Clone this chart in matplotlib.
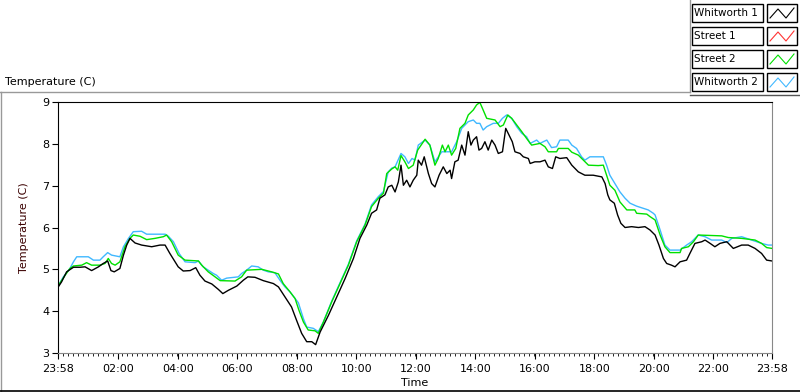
import numpy as np
import matplotlib
matplotlib.use("Agg")
import matplotlib.pyplot as plt
from matplotlib.lines import Line2D
from matplotlib.patches import Rectangle

# hours since 23:58, temperature (C)
w1_t = [0, 0.12, 0.29, 0.52, 0.74, 0.91, 1.13, 1.36, 1.52, 1.67, 1.78, 1.89, 2.08, 2.20, 2.31, 2.42,
        2.59, 2.81, 3.15, 3.43, 3.60, 3.76, 4.04, 4.21, 4.44, 4.63, 4.77, 4.94, 5.17, 5.39, 5.54, 5.73,
        6.01, 6.23, 6.38, 6.62, 6.90, 7.24, 7.41, 7.63, 7.85, 8.02, 8.19, 8.36, 8.53, 8.66, 8.81, 9.09,
        9.37, 9.65, 9.93, 10.15, 10.38, 10.54, 10.71, 10.82, 10.99, 11.10, 11.22, 11.33, 11.44, 11.53,
        11.61, 11.72, 11.83, 11.94, 12.06, 12.11, 12.22, 12.31, 12.45, 12.56, 12.67, 12.81, 12.95,
        13.07, 13.18, 13.23, 13.34, 13.45, 13.57, 13.68, 13.79, 13.88, 13.96, 14.07, 14.15, 14.24,
        14.35, 14.46, 14.58, 14.69, 14.80, 14.94, 15.05, 15.16, 15.27, 15.36, 15.53, 15.64, 15.81,
        15.87, 16.03, 16.20, 16.37, 16.48, 16.62, 16.73, 16.87, 17.10, 17.27, 17.49, 17.71, 17.99,
        18.28, 18.39, 18.48, 18.55, 18.70, 18.81, 18.92, 19.06, 19.28, 19.51, 19.73, 19.90, 20.07,
        20.20, 20.35, 20.46, 20.62, 20.74, 20.91, 21.13, 21.24, 21.41, 21.64, 21.75, 21.92, 22.08,
        22.25, 22.48, 22.70, 22.98, 23.20, 23.43, 23.65, 23.82, 24.0]
w1_v = [4.57, 4.70, 4.94, 5.05, 5.05, 5.06, 4.97, 5.06, 5.14, 5.20, 4.97, 4.94, 5.02, 5.34, 5.58, 5.74,
        5.63, 5.58, 5.54, 5.58, 5.58, 5.38, 5.06, 4.96, 4.97, 5.04, 4.86, 4.72, 4.65, 4.52, 4.42, 4.50,
        4.60, 4.74, 4.82, 4.81, 4.73, 4.66, 4.58, 4.34, 4.10, 3.78, 3.47, 3.27, 3.27, 3.20, 3.50, 3.90,
        4.34, 4.78, 5.26, 5.74, 6.06, 6.34, 6.42, 6.70, 6.78, 6.97, 7.01, 6.85, 7.09, 7.49,
        7.01, 7.13, 6.97, 7.13, 7.25, 7.61, 7.49, 7.69, 7.29, 7.05, 6.97, 7.25, 7.45,
        7.29, 7.37, 7.17, 7.57, 7.61, 7.97, 7.73, 8.29, 7.97, 8.09, 8.17, 7.85, 7.89,
        8.05, 7.85, 8.09, 7.97, 7.77, 7.81, 8.37, 8.21, 8.05, 7.81, 7.77, 7.69, 7.65,
        7.53, 7.57, 7.57, 7.61, 7.45, 7.41, 7.69, 7.65, 7.67, 7.49, 7.33, 7.25, 7.25,
        7.21, 7.05, 6.78, 6.66, 6.58, 6.30, 6.10, 6.00, 6.02, 6.00, 6.02, 5.94, 5.82,
        5.58, 5.26, 5.14, 5.10, 5.06, 5.18, 5.22, 5.38, 5.62, 5.66, 5.70, 5.62, 5.54,
        5.62, 5.66, 5.50, 5.58, 5.58, 5.50, 5.38, 5.22, 5.20]

s2_t = [0, 0.24, 0.40, 0.52, 0.80, 0.96, 1.13, 1.41, 1.58, 1.69, 1.80, 1.92, 2.08, 2.25, 2.42, 2.53,
        2.76, 2.98, 3.26, 3.54, 3.65, 3.82, 4.04, 4.27, 4.72, 4.83, 5.05, 5.28, 5.45, 5.95, 6.17, 6.34,
        6.85, 7.18, 7.41, 7.57, 7.80, 7.97, 8.10, 8.25, 8.41, 8.64, 8.75, 8.92, 9.20, 9.48, 9.76, 10.04,
        10.32, 10.54, 10.77, 10.94, 11.05, 11.22, 11.33, 11.42, 11.53, 11.66, 11.78, 11.94, 12.09,
        12.34, 12.50, 12.67, 12.78, 12.92, 13.01, 13.12, 13.23, 13.37, 13.51, 13.68, 13.79, 13.96,
        14.07, 14.18, 14.29, 14.41, 14.69, 14.86, 14.97, 15.12, 15.25, 15.42, 15.59, 15.75, 15.92,
        16.20, 16.37, 16.48, 16.76, 16.82, 17.15, 17.27, 17.49, 17.66, 17.83, 18.16, 18.33, 18.44,
        18.55, 18.72, 18.89, 19.12, 19.39, 19.45, 19.79, 19.90, 20.07, 20.24, 20.40, 20.57, 20.91,
        20.96, 21.19, 21.36, 21.52, 22.31, 22.53, 22.98, 23.43, 23.65, 23.82, 24.0]
s2_v = [4.60, 4.86, 5.02, 5.08, 5.10, 5.16, 5.10, 5.10, 5.14, 5.26, 5.14, 5.10, 5.18, 5.54, 5.74, 5.82,
        5.79, 5.71, 5.74, 5.78, 5.82, 5.66, 5.34, 5.22, 5.20, 5.10, 4.94, 4.82, 4.73, 4.72, 4.82, 4.98,
        5.00, 4.94, 4.89, 4.66, 4.46, 4.30, 4.02, 3.74, 3.55, 3.53, 3.47, 3.74, 4.22, 4.66, 5.10, 5.66,
        6.06, 6.50, 6.70, 6.82, 7.29, 7.40, 7.45, 7.37, 7.72, 7.57, 7.41, 7.49, 7.85,
        8.11, 7.97, 7.49, 7.65, 7.97, 7.81, 7.97, 7.73, 7.89, 8.37, 8.49, 8.69, 8.81,
        8.93, 8.99, 8.81, 8.61, 8.57, 8.41, 8.45, 8.69, 8.61, 8.45, 8.29, 8.13, 7.97,
        8.01, 7.93, 7.81, 7.81, 7.89, 7.89, 7.80, 7.73, 7.61, 7.49, 7.48, 7.49, 7.25,
        7.01, 6.89, 6.61, 6.42, 6.42, 6.34, 6.32, 6.26, 6.18, 5.82, 5.54, 5.40, 5.40,
        5.50, 5.54, 5.66, 5.82, 5.80, 5.76, 5.74, 5.70, 5.62, 5.52, 5.50]

w2_t = [0, 0.18, 0.40, 0.52, 0.63, 1.02, 1.19, 1.41, 1.52, 1.67, 1.80, 2.08, 2.20, 2.37, 2.53, 2.81,
        2.98, 3.60, 3.71, 3.88, 4.07, 4.27, 4.61, 4.72, 4.88, 5.05, 5.22, 5.33, 5.50, 5.67, 6.06, 6.17,
        6.34, 6.51, 6.73, 6.90, 7.07, 7.29, 7.46, 7.63, 7.80, 7.97, 8.08, 8.25, 8.36, 8.58, 8.75, 8.92,
        9.20, 9.48, 9.76, 10.04, 10.32, 10.54, 10.77, 10.94, 11.10, 11.22, 11.33, 11.53, 11.66, 11.78,
        11.90, 12.00, 12.11, 12.34, 12.50, 12.67, 12.90, 13.23, 13.40, 13.57, 13.79, 13.96, 14.07,
        14.18, 14.29, 14.41, 14.63, 14.80, 14.94, 15.08, 15.25, 15.42, 15.59, 15.75, 15.87, 16.09,
        16.20, 16.31, 16.43, 16.59, 16.76, 16.87, 17.15, 17.27, 17.43, 17.60, 17.71, 17.88, 18.33,
        18.44, 18.55, 18.72, 18.89, 19.06, 19.23, 19.45, 19.84, 20.01, 20.07, 20.24, 20.40, 20.57,
        20.91, 21.13, 21.30, 21.52, 21.75, 21.97, 22.31, 22.48, 22.65, 22.98, 23.32, 23.65, 23.87, 24.0]
w2_v = [4.60, 4.82, 5.02, 5.18, 5.30, 5.30, 5.22, 5.22, 5.30, 5.40, 5.34, 5.30, 5.54, 5.74, 5.90, 5.91,
        5.84, 5.84, 5.79, 5.66, 5.38, 5.18, 5.16, 5.20, 5.06, 4.98, 4.90, 4.86, 4.74, 4.79, 4.82, 4.90,
        4.98, 5.08, 5.06, 4.98, 4.94, 4.92, 4.74, 4.58, 4.46, 4.30, 4.20, 3.82, 3.62, 3.59, 3.51, 3.74,
        4.24, 4.68, 5.12, 5.68, 6.08, 6.54, 6.74, 6.86, 7.33, 7.42, 7.45, 7.77, 7.69, 7.53,
        7.65, 7.61, 7.97, 8.09, 7.97, 7.57, 7.81, 7.81, 8.05, 8.37, 8.53, 8.57, 8.49,
        8.49, 8.33, 8.41, 8.49, 8.49, 8.61, 8.69, 8.61, 8.41, 8.25, 8.17, 8.01, 8.09,
        8.01, 8.05, 8.09, 7.91, 7.93, 8.09, 8.09, 7.97, 7.89, 7.69, 7.61, 7.69, 7.69,
        7.49, 7.25, 7.05, 6.85, 6.70, 6.58, 6.51, 6.42, 6.34, 6.30, 5.94, 5.58, 5.46,
        5.46, 5.58, 5.66, 5.82, 5.78, 5.70, 5.70, 5.64, 5.74, 5.78, 5.70, 5.62, 5.58, 5.58]

# Street 1 has no visible trace in the chart
s1_t = []
s1_v = []

names = ["Whitworth 1", "Street 1", "Street 2", "Whitworth 2"]
colors = ["#000000", "#ff3333", "#00e000", "#40b8ff"]

tick_hours = [0, 2 + 2/60, 4 + 2/60, 6 + 2/60, 8 + 2/60, 10 + 2/60, 12 + 2/60,
              14 + 2/60, 16 + 2/60, 18 + 2/60, 20 + 2/60, 22 + 2/60, 24]
tick_labels = ["23:58", "02:00", "04:00", "06:00", "08:00", "10:00", "12:00",
               "14:00", "16:00", "18:00", "20:00", "22:00", "23:58"]

plt.rcParams['font.family'] = ['DejaVu Sans']
fig = plt.figure(figsize=(8, 3.92), dpi=100)
fig.patch.set_facecolor("white")

ax = fig.add_axes([58/800, 1 - 353/392, 714/800, 251/392])
# draw back to front: Whitworth 2, Street 2, Street 1, Whitworth 1
ax.plot(w2_t, w2_v, color=colors[3], lw=1.0)
ax.plot(s2_t, s2_v, color=colors[2], lw=1.0)
ax.plot(s1_t, s1_v, color=colors[1], lw=1.0)
ax.plot(w1_t, w1_v, color=colors[0], lw=1.0)

ax.set_xlim(0, 24)
ax.set_ylim(3, 9)
ax.set_xticks(tick_hours)
ax.set_xticklabels(tick_labels, fontsize=8)
ax.set_xticks(np.arange(0, 24, 1/6), minor=True)
ax.set_yticks(range(3, 10))
ax.tick_params(axis='y', labelsize=8, length=4, direction='out', pad=2)
ax.tick_params(axis='x', which='major', length=4, direction='out', pad=4)
ax.tick_params(axis='x', which='minor', length=2.5, direction='out')
ax.spines['left'].set_color("black")
ax.spines['top'].set_color("black")
ax.spines['right'].set_color("#888888")
ax.spines['bottom'].set_color("#888888")
ax.set_xlabel("Time", fontsize=8, labelpad=3)
ax.set_ylabel("Temperature (C)", fontsize=8, color="#3a0000", labelpad=10)

# panel frame
fig.add_artist(Line2D([0, 690/800], [1 - 92/392] * 2, color="#999999", lw=1))
fig.add_artist(Line2D([1/800, 1/800], [1 - 92/392, 0], color="#999999", lw=1))
fig.add_artist(Line2D([0, 1], [1.5/392, 1.5/392], color="black", lw=1.2))
fig.add_artist(Line2D([690/800, 690/800], [1, 1 - 92/392], color="#999999", lw=1))
fig.add_artist(Line2D([690/800, 1], [1 - 95/392] * 2, color="#555555", lw=1))
fig.text(5/800, 1 - 82/392, "Temperature (C)", fontsize=8, va="center", ha="left")

# legend
for k, name in enumerate(names):
    y0 = 4 + k * 23
    fig.add_artist(Rectangle((692/800, 1 - (y0 + 18)/392), 71/800, 18/392,
                             fill=False, ec="black", lw=1, transform=fig.transFigure))
    fig.text(694/800, 1 - (y0 + 9)/392, name, fontsize=7.5, va="center", ha="left")
    fig.add_artist(Rectangle((767/800, 1 - (y0 + 18)/392), 30/800, 18/392,
                             fill=False, ec="black", lw=1, transform=fig.transFigure))
    fig.add_artist(Line2D([770/800, 778/800, 786/800, 794/800],
                          [1 - (y0 + 14)/392, 1 - (y0 + 5)/392, 1 - (y0 + 14)/392, 1 - (y0 + 4)/392],
                          color=colors[k], lw=0.8))

fig.savefig("out.png", dpi=100)
